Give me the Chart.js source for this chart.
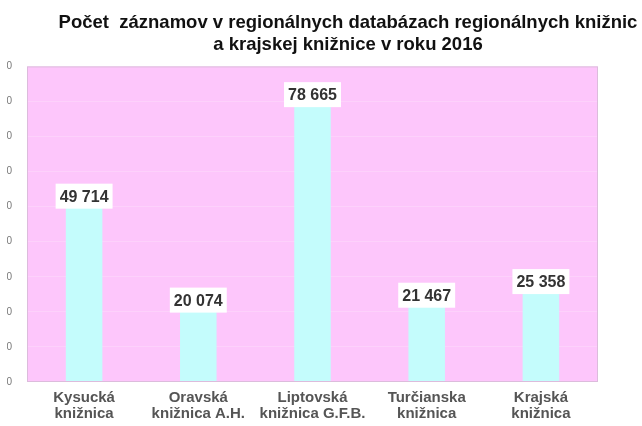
<!DOCTYPE html>
<html lang="sk">
<head>
<meta charset="UTF-8">
<title>Počet záznamov 2016</title>
<script src="https://cdn.jsdelivr.net/npm/chart.js"></script>
<style>
    html, body {
        margin: 0;
        padding: 0;
        background: #fff;
        overflow: hidden;
        width: 642px;
        height: 426px;
    }
    #clip {
        position: absolute;
        left: 7px;
        top: 0;
        width: 635px;
        height: 426px;
        overflow: hidden;
    }
    #wrap {
        position: absolute;
        left: -47px;
        top: 0;
        width: 776px;
        height: 426px;
    }
</style>
</head>
<body>
<div id="clip"><div id="wrap"><canvas id="chart"></canvas></div></div>
<script>
    // data
    const libraries = [
        ['Kysucká', 'knižnica'],
        ['Oravská', 'knižnica A.H.'],
        ['Liptovská', 'knižnica G.F.B.'],
        ['Turčianska', 'knižnica'],
        ['Krajská', 'knižnica']
    ];
    const records = [49714, 20074, 78665, 21467, 25358];
    const yMax = 90000;
    const yStep = 10000;
    const titleLines = [
        'Počet  záznamov v regionálnych databázach regionálnych knižnic',
        'a krajskej knižnice v roku 2016'
    ];

    const FONT = '"Liberation Sans", Arial, sans-serif';

    function fmt(v) {
        return String(v).replace(/\B(?=(\d{3})+(?!\d))/g, ' ');
    }

    // white boxes with the value above each bar
    const valueLabels = {
        id: 'valueLabels',
        afterDatasetsDraw(chart) {
            const ctx = chart.ctx;
            const meta = chart.getDatasetMeta(0);
            ctx.save();
            ctx.font = 'bold 16px ' + FONT;
            ctx.textAlign = 'center';
            ctx.textBaseline = 'middle';
            meta.data.forEach((bar, i) => {
                const txt = fmt(records[i]);
                const w = ctx.measureText(txt).width + 8;
                const h = 25;
                ctx.fillStyle = '#ffffff';
                ctx.fillRect(bar.x - w / 2, bar.y - h + 1, w, h);
                ctx.fillStyle = '#333333';
                ctx.fillText(txt, bar.x, bar.y - h / 2 + 2);
            });
            ctx.restore();
        }
    };

    // pink plot background and thin frame
    const plotBg = {
        id: 'plotBg',
        beforeDraw(chart) {
            const a = chart.chartArea;
            const ctx = chart.ctx;
            ctx.save();
            ctx.fillStyle = '#fdc6fb';
            ctx.fillRect(a.left, a.top, a.right - a.left, a.bottom - a.top);
            ctx.restore();
        },
        afterDraw(chart) {
            const a = chart.chartArea;
            const ctx = chart.ctx;
            ctx.save();
            ctx.strokeStyle = '#dcbcdc';
            ctx.lineWidth = 1;
            ctx.strokeRect(a.left + 0.5, a.top + 0.5, a.right - a.left - 1, a.bottom - a.top - 1);
            ctx.restore();
        }
    };

    new Chart(document.getElementById('chart'), {
        type: 'bar',
        data: {
            labels: libraries,
            datasets: [{
                data: records,
                backgroundColor: '#c4fcfc',
                borderWidth: 0,
                categoryPercentage: 1.0,
                barPercentage: 0.32
            }]
        },
        options: {
            responsive: true,
            maintainAspectRatio: false,
            animation: false,
            layout: {
                padding: 0
            },
            plugins: {
                legend: { display: false },
                tooltip: { enabled: false },
                title: {
                    display: true,
                    text: titleLines,
                    color: '#111111',
                    font: { family: FONT, size: 18.5, weight: 'bold', lineHeight: 1.2 },
                    padding: { top: 12, bottom: 10 }
                }
            },
            scales: {
                x: {
                    grid: { display: false, drawTicks: false },
                    border: { display: false },
                    ticks: {
                        color: '#555555',
                        font: { family: FONT, size: 15, weight: 'bold', lineHeight: 1.08 },
                        padding: 8,
                        maxRotation: 0
                    },
                    afterFit(scale) { scale.height = 44; }
                },
                y: {
                    min: 0,
                    max: yMax,
                    grid: { color: 'rgba(255,255,255,0.2)', drawTicks: false },
                    border: { display: false },
                    ticks: {
                        stepSize: yStep,
                        color: '#777777',
                        font: { family: FONT, size: 10 },
                        padding: 15,
                        callback: v => fmt(v)
                    },
                    afterFit(scale) { scale.width = 67; }
                },
                // empty right-hand space so the title stays centred over the whole picture
                spacer: {
                    type: 'linear',
                    position: 'right',
                    display: true,
                    grid: { display: false, drawTicks: false },
                    border: { display: false },
                    ticks: { display: false },
                    afterFit(scale) { scale.width = 138; }
                }
            }
        },
        plugins: [plotBg, valueLabels]
    });
</script>
</body>
</html>
